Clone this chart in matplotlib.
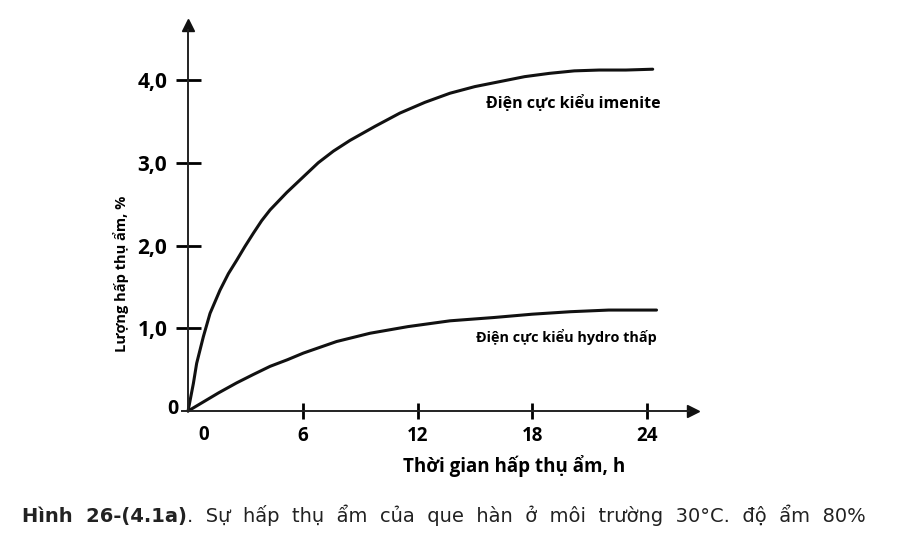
import numpy as np
import matplotlib.pyplot as plt

# doc tu hinh (gio, %)
gio_imenite = [0, 0.28, 0.45, 0.80, 1.15, 1.67, 2.11, 2.54, 2.98, 3.42, 3.85, 4.29, 5.16,
               6.03, 6.81, 7.60, 8.47, 9.78, 11.08, 12.39, 13.7, 15.0, 16.3, 17.6, 18.9,
               20.2, 21.5, 22.9, 24.3]
imenite = [0, 0.335, 0.576, 0.898, 1.18, 1.46, 1.66, 1.82, 1.99, 2.15, 2.30, 2.43, 2.64,
           2.83, 3.00, 3.14, 3.27, 3.44, 3.60, 3.73, 3.84, 3.92, 3.98, 4.04, 4.08,
           4.11, 4.12, 4.12, 4.13]

gio_hydro = [0, 0.8, 1.6, 2.54, 3.4, 4.29, 5.2, 6.03, 7.77, 9.52, 11.5, 13.7, 16.0, 18.0,
             20.0, 22.0, 24.5]
hydro = [0, 0.11, 0.22, 0.34, 0.44, 0.54, 0.62, 0.70, 0.84, 0.94, 1.02, 1.09, 1.13, 1.17,
         1.20, 1.22, 1.22]

xticks = [6, 12, 18, 24]
yticks = [1, 2, 3, 4]
ylabels = ['1,0', '2,0', '3,0', '4,0']

W, H = 916, 535
fig = plt.figure(figsize=(W / 100, H / 100), dpi=100)
# khung truc theo pixel: x 150..720, y 15..440
ax = fig.add_axes([150 / W, (H - 440) / H, 570 / W, 425 / H])
ax.set_xlim(-1.99, 27.82)
ax.set_ylim(-0.35, 4.785)

font = 'Open Sans'

ax.plot(gio_imenite, imenite, color='#111111', lw=2.2, solid_joinstyle='round', solid_capstyle='round')
ax.plot(gio_hydro, hydro, color='#111111', lw=2.2, solid_joinstyle='round', solid_capstyle='round')

for s in ['top', 'right']:
    ax.spines[s].set_visible(False)
ax.spines['left'].set_position(('data', 0))
ax.spines['bottom'].set_position(('data', 0))
ax.spines['left'].set_bounds(0, 4.6)
ax.spines['bottom'].set_bounds(-0.3, 26.2)
for s in ['left', 'bottom']:
    ax.spines[s].set_linewidth(1.4)
    ax.spines[s].set_color('#222222')

# mui ten
ax.plot(26.4, 0, '>', color='#111111', ms=9, clip_on=False)
ax.plot(0, 4.66, '^', color='#111111', ms=9, clip_on=False)

ax.set_xticks(xticks)
ax.set_xticklabels([str(v) for v in xticks])
ax.set_yticks(yticks)
ax.set_yticklabels(ylabels)
ax.tick_params(axis='x', direction='inout', length=12, width=2, pad=5, labelsize=13.5)
ax.tick_params(axis='y', direction='inout', length=18, width=2, pad=6, labelsize=15)
for lab in ax.get_xticklabels() + ax.get_yticklabels():
    lab.set_fontweight('bold')
    lab.set_fontfamily(font)

ax.text(-0.5, 0.02, '0', ha='right', va='center', fontsize=14, fontweight='bold', family=font)
ax.text(0.8, -0.17, '0', ha='center', va='top', fontsize=13.5, fontweight='bold', family=font)

ax.set_xlabel('Thời gian hấp thụ ẩm, h', fontsize=13.5, fontweight='bold', family=font)
ax.xaxis.set_label_coords(0.6386, -0.035)
ax.set_ylabel('Lượng hấp thụ ẩm, %', fontsize=10.5, fontweight='bold', family=font)
ax.yaxis.set_label_coords(-0.037, 0.392)

ax.text(15.58, 3.71, 'Điện cực kiểu imenite', ha='left', va='center',
        fontsize=11.5, fontweight='bold', family=font)
ax.text(15.06, 0.89, 'Điện cực kiểu hydro thấp', ha='left', va='center',
        fontsize=10.4, fontweight='bold', family=font)

t1 = fig.text(22 / W, 1 - 522 / H, 'Hình  26-(4.1a)', ha='left', va='baseline',
              fontsize=14, fontweight='bold', family='DejaVu Sans', color='#222222')
ax.annotate('.  Sự  hấp  thụ  ẩm  của  que  hàn  ở  môi  trường  30°C.  độ  ẩm  80%',
            xy=(1, 0), xycoords=t1, ha='left', va='bottom',
            fontsize=14, family='DejaVu Sans', color='#222222', annotation_clip=False)

fig.savefig('out.png', dpi=100)
